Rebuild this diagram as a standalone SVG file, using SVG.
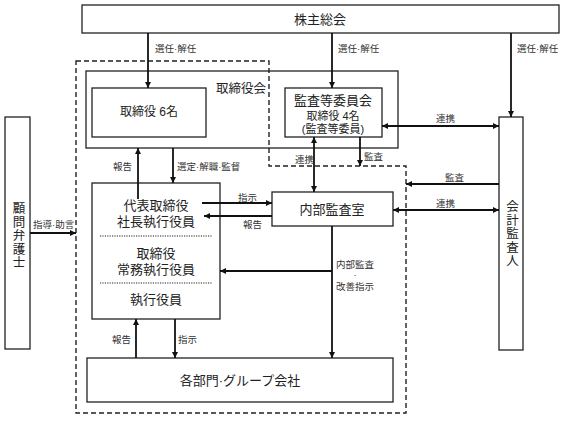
<svg xmlns="http://www.w3.org/2000/svg" width="564" height="422" viewBox="0 0 564 422">
<defs>
<marker id="ah" viewBox="0 0 10 10" refX="10" refY="5" markerWidth="6" markerHeight="6" markerUnits="userSpaceOnUse" orient="auto-start-reverse"><path d="M0,0 L10,5 L0,10 z" fill="#111"/></marker>
<style>
.box{fill:#fff;stroke:#222;stroke-width:1.3}
.frame{fill:none;stroke:#222;stroke-width:1.3}
.dash{fill:none;stroke:#222;stroke-width:1.4;stroke-dasharray:5 3}
.dot{stroke:#222;stroke-width:1.2;stroke-dasharray:1.2 1.2}
.ar{fill:none;stroke:#111;stroke-width:1.8;marker-end:url(#ah)}
.bi{fill:none;stroke:#111;stroke-width:1.8;marker-end:url(#ah);marker-start:url(#ah)}
text{font-family:"Liberation Sans","Noto Sans CJK JP",sans-serif;fill:#222;dominant-baseline:central}
.m{font-size:13px;text-anchor:middle}
.v{font-size:12.5px;text-anchor:middle;writing-mode:vertical-rl;letter-spacing:1px}
.s{font-size:9.5px;fill:#333}
.sm{font-size:9.5px;fill:#333;text-anchor:middle}
</style>
</defs>

<g id="outer-frame">
<path class="dash" d="M76,61 H269 V166 H406 V413 H76 Z"/>
</g>

<g id="shareholders">
<rect class="box" x="82" y="5" width="477" height="28"/>
<text class="m" x="320" y="19">株主総会</text>
</g>

<g id="board">
<rect class="frame" x="86" y="71" width="312" height="77"/>
<text x="266" y="89" font-size="12.5" text-anchor="end">取締役会</text>
</g>

<g id="directors">
<rect class="box" x="92" y="88" width="114" height="49"/>
<text x="149" y="112" font-size="12" text-anchor="middle">取締役 6名</text>
</g>

<g id="audit-committee">
<rect class="box" x="285" y="88" width="97" height="49"/>
<text class="m" x="333"><tspan x="333" y="100">監査等委員会</tspan><tspan x="333" y="116" font-size="11">取締役 4名</tspan><tspan x="333" y="129" font-size="11">(監査等委員)</tspan></text>
</g>

<g id="executives">
<rect class="box" x="92" y="183" width="128" height="136"/>
<text class="m" x="156"><tspan x="156" y="205">代表取締役</tspan><tspan x="156" y="221">社長執行役員</tspan></text>
<line class="dot" x1="100" y1="236" x2="212" y2="236"/>
<text class="m" x="156"><tspan x="156" y="253">取締役</tspan><tspan x="156" y="269">常務執行役員</tspan></text>
<line class="dot" x1="100" y1="283" x2="212" y2="283"/>
<text class="m" x="156" y="299">執行役員</text>
</g>

<g id="internal-audit">
<rect class="box" x="272" y="192" width="121" height="34"/>
<text class="m" x="332" y="209">内部監査室</text>
</g>

<g id="departments">
<rect class="box" x="87" y="358" width="306" height="44"/>
<text class="m" x="240" y="380">各部門·グループ会社</text>
</g>

<g id="auditor">
<rect class="box" x="499" y="117" width="24" height="233"/>
<text class="v" x="511" y="234">会計監査人</text>
</g>

<g id="lawyer">
<rect class="box" x="5" y="117" width="25" height="232"/>
<text class="v" x="17.5" y="236">顧問弁護士</text>
</g>

<g id="connectors">
<line class="ar" x1="148" y1="33" x2="148" y2="88"/>
<text class="s" x="155" y="48">選任·解任</text>
<line class="ar" x1="332" y1="33" x2="332" y2="88"/>
<text class="s" x="338" y="48">選任·解任</text>
<line class="ar" x1="511" y1="33" x2="511" y2="117"/>
<text class="s" x="517" y="48">選任·解任</text>

<line class="ar" x1="138" y1="199" x2="138" y2="148"/>
<text class="s" x="113" y="166">報告</text>
<line class="ar" x1="173" y1="148" x2="173" y2="183"/>
<text class="s" x="177" y="166">選定·解職·監督</text>

<line class="bi" x1="314" y1="137" x2="314" y2="192"/>
<text class="s" x="295" y="159">連携</text>
<line class="ar" x1="360" y1="137" x2="360" y2="166"/>
<text class="s" x="364" y="156">監査</text>

<line class="bi" x1="382" y1="126" x2="499" y2="126"/>
<text class="s" x="436" y="118">連携</text>
<line class="ar" x1="499" y1="184" x2="406" y2="184"/>
<text class="s" x="445" y="177">監査</text>
<line class="bi" x1="393" y1="210" x2="499" y2="210"/>
<text class="s" x="436" y="203">連携</text>

<line class="ar" x1="202" y1="203" x2="272" y2="203"/>
<text class="s" x="238" y="197">指示</text>
<line class="ar" x1="272" y1="216" x2="204" y2="216"/>
<text class="s" x="243" y="224">報告</text>

<line class="ar" x1="332" y1="226" x2="332" y2="358"/>
<line class="ar" x1="332" y1="271" x2="220" y2="271"/>
<text class="sm" x="355"><tspan x="355" y="264">内部監査</tspan><tspan x="355" y="274">·</tspan><tspan x="355" y="286">改善指示</tspan></text>

<line class="ar" x1="30" y1="233" x2="76" y2="233"/>
<text class="s" x="33" y="224">指導·助言</text>

<line class="ar" x1="136" y1="358" x2="136" y2="319"/>
<text class="s" x="112" y="339">報告</text>
<line class="ar" x1="175" y1="319" x2="175" y2="358"/>
<text class="s" x="178" y="339">指示</text>
</g>
</svg>
